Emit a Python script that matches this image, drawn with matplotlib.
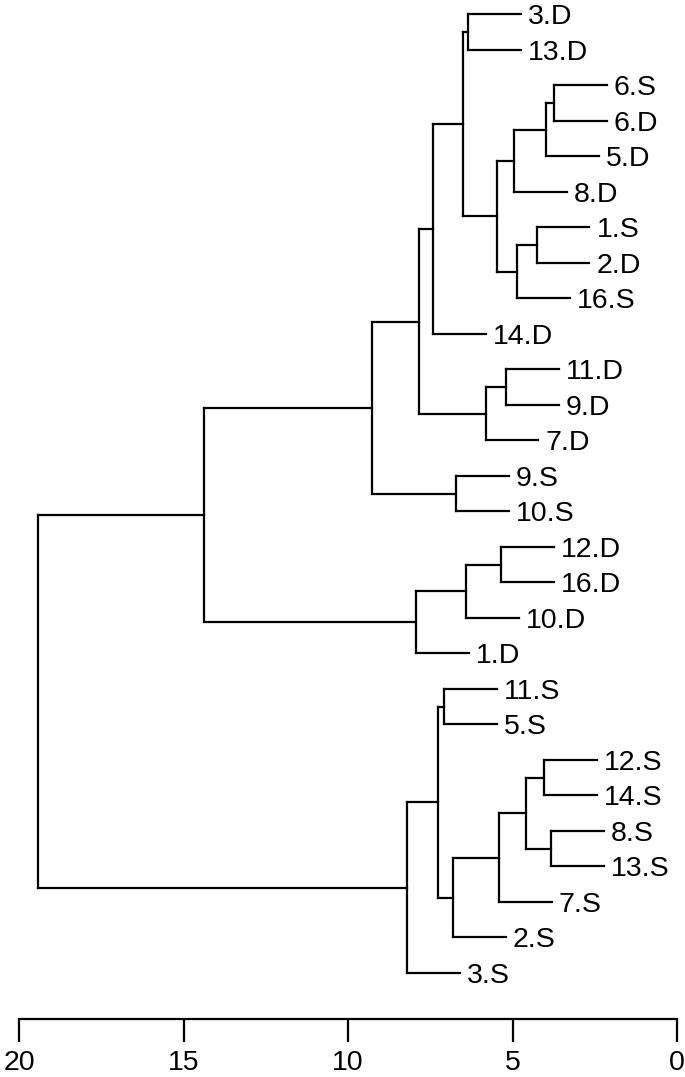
import matplotlib
matplotlib.use("Agg")
import matplotlib.pyplot as plt

plt.rcParams['font.family'] = ['Liberation Sans', 'DejaVu Sans']

# leaf order, top to bottom
leaves = ["3.D", "13.D", "6.S", "6.D", "5.D", "8.D", "1.S", "2.D", "16.S",
          "14.D", "11.D", "9.D", "7.D", "9.S", "10.S", "12.D", "16.D", "10.D",
          "1.D", "11.S", "5.S", "12.S", "14.S", "8.S", "13.S", "7.S", "2.S",
          "3.S"]

# merges: (child a, child b, height); ints refer to earlier merges
merges = [
    ("3.D", "13.D", 6.35),    # 0
    ("6.S", "6.D", 3.74),     # 1
    (1, "5.D", 3.98),         # 2
    (2, "8.D", 4.95),         # 3
    ("1.S", "2.D", 4.26),     # 4
    (4, "16.S", 4.86),        # 5
    (3, 5, 5.47),             # 6
    (0, 6, 6.50),             # 7
    (7, "14.D", 7.42),        # 8
    ("11.D", "9.D", 5.20),    # 9
    (9, "7.D", 5.81),         # 10
    (8, 10, 7.84),            # 11
    ("9.S", "10.S", 6.72),    # 12
    (11, 12, 9.27),           # 13
    ("12.D", "16.D", 5.35),   # 14
    (14, "10.D", 6.41),       # 15
    (15, "1.D", 7.93),        # 16
    (13, 16, 14.38),          # 17
    ("11.S", "5.S", 7.08),    # 18
    ("12.S", "14.S", 4.04),   # 19
    ("8.S", "13.S", 3.83),    # 20
    (19, 20, 4.59),           # 21
    (21, "7.S", 5.41),        # 22
    (22, "2.S", 6.81),        # 23
    (18, 23, 7.26),           # 24
    (24, "3.S", 8.21),        # 25
    (17, 25, 19.42),          # 26
]

ticks = [0, 5, 10, 15, 20]
HANG = 1.6
LW = 1.6
FS = 20.5

fig = plt.figure(figsize=(6.85, 10.77), dpi=100)
ax = fig.add_axes([0, 0, 1, 1])

pos = {}


def node_y(c):
    if isinstance(c, str):
        return leaves.index(c)
    return pos[c]


for k, (a, b, h) in enumerate(merges):
    ya, yb = node_y(a), node_y(b)
    pos[k] = (ya + yb) / 2
    ax.plot([h, h], [ya, yb], color='black', lw=LW, solid_capstyle='projecting')
    for c, yc in ((a, ya), (b, yb)):
        if isinstance(c, str):
            end = h - HANG
            ax.annotate(c, (end, yc), xytext=(5, 0), textcoords='offset points',
                        fontsize=FS, ha='left', va='center_baseline')
        else:
            end = merges[c][2]
        ax.plot([h, end], [yc, yc], color='black', lw=LW, solid_capstyle='projecting')

ax.set_xlim(20.578, -0.243)
ax.set_ylim(29.93, -0.408)

for s in ['top', 'left', 'right']:
    ax.spines[s].set_visible(False)
ax.spines['bottom'].set_position(('data', 28.30))
ax.spines['bottom'].set_bounds(0, 20)
ax.spines['bottom'].set_linewidth(LW)
ax.set_yticks([])
ax.set_xticks(ticks)
ax.set_xticklabels([str(t) for t in ticks])
ax.tick_params(axis='x', direction='out', length=16.5, width=LW, labelsize=FS, pad=6)

fig.savefig("out.png", dpi=100)
